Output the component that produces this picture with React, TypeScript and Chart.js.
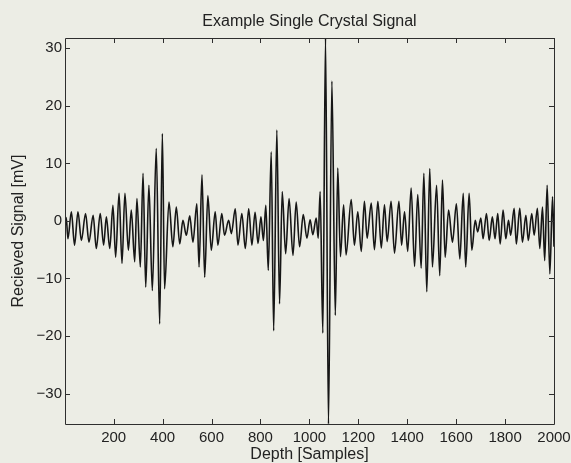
import React, { useEffect, useRef } from "react";
import { Chart, registerables } from "chart.js";

Chart.register(...registerables);

const chartTitle = "Example Single Crystal Signal";
const xAxisLabel = "Depth [Samples]";
const yAxisLabel = "Recieved Signal [mV]";

const xTicks = [200, 400, 600, 800, 1000, 1200, 1400, 1600, 1800, 2000];
const yTicks = [-30, -20, -10, 0, 10, 20, 30];
const xLimits = [1, 2000];
const yLimits = [-35.3, 31.8];

// Sample index of each turning point of the waveform
const sampleIdx = [
  1, 6, 13, 27, 40, 54, 68, 85, 99, 116, 129, 145, 159, 170, 184, 197, 208, 222, 234, 246,
  260, 272, 286, 295, 309, 320, 331, 344, 358, 374, 388, 399, 408, 426, 442, 456, 470, 483,
  497, 511, 524, 540, 549, 561, 572, 585, 599, 615, 626, 642, 653, 670, 681, 697, 708, 724,
  738, 752, 765, 778, 790, 802, 812, 822, 832, 844, 854, 867, 878, 889, 903, 917, 933, 946,
  960, 975, 990, 1003, 1014, 1028, 1036, 1044, 1055, 1066, 1078, 1092, 1106, 1116, 1127,
  1140, 1150, 1171, 1184, 1198, 1212, 1225, 1236, 1253, 1266, 1280, 1294, 1307, 1318, 1334,
  1348, 1366, 1377, 1389, 1402, 1416, 1430, 1443, 1457, 1468, 1480, 1492, 1503, 1520, 1533,
  1544, 1555, 1569, 1585, 1601, 1615, 1629, 1639, 1653, 1664, 1678, 1688, 1701, 1710, 1724,
  1735, 1748, 1759, 1770, 1780, 1792, 1803, 1814, 1823, 1837, 1846, 1860, 1871, 1885, 1895,
  1909, 1919, 1932, 1942, 1953, 1962, 1972, 1983, 1994, 2000,
];

// Signal value in mV at each turning point
const signalMv = [
  -1.2, 0.6, -3.1, 1.6, -4.2, 1.6, -3.4, 1.3, -3.7, 1.0, -4.8, 1.3, -4.2, 0.7, -4.8, 2.7, -6.3, 4.8, -7.4, 4.8,
  -5.1, 1.9, -7.1, 3.9, -8.0, 8.3, -11.5, 6.2, -12.1, 12.6, -17.9, 15.2, -11.8, 3.3, -4.5, 2.4, -4.0, 0.1,
  -2.5, 0.9, -3.7, 3.0, -8.0, 8.0, -9.8, 4.4, -5.1, 1.6, -4.2, 1.3, -2.5, 0.1, -2.2, 2.1, -4.2, 1.3,
  -4.8, 2.1, -4.2, 1.5, -3.9, 0.7, -3.4, 2.7, -8.6, 12.0, -19.1, 15.8, -14.4, 5.1, -5.7, 3.9, -6.0, 3.3,
  -4.5, 1.1, -3.0, 0.2, -2.4, 0.5, -3.0, 5.1, -19.5, 31.8, -35.3, 24.3, -16.4, 9.2, -6.2,
  2.8, -5.9, 3.7, -4.2, 1.6, -5.3, 3.4, -3.0, 3.1, -5.0, 3.4, -4.7, 2.8, -3.6, 3.4,
  -5.6, 3.4, -4.2, 1.6, -5.3, 5.7, -7.9, 4.6, -8.2, 8.3, -12.3, 9.1, -8.0, 6.2, -9.5,
  7.1, -6.3, 1.9, -3.7, 3.0, -6.6, 4.8, -8.0, 4.8, -5.1, 0.1, -1.9, 0.5, -3.1, 1.3,
  -3.4, 0.7, -3.1, 1.3, -4.0, 1.9, -3.1, 0.1, -2.5, 2.2, -4.0, 2.2, -3.7, 1.0, -3.4,
  1.3, -2.5, 2.2, -4.8, 2.4, -6.9, 6.2, -9.2, 4.2, -4.5,
];

const BG = "#ecede5";
const INK = "#222222";
const FONT = "'Liberation Sans', Arial, Helvetica, sans-serif";

const fmt = (v: number) => (v < 0 ? "\u2212" + Math.abs(v) : String(v));

const framePlugin = {
  id: "matlabFrame",
  afterDatasetsDraw(chart: any) {
    const { ctx, chartArea, scales } = chart;
    const { left, right, top, bottom } = chartArea;
    const tick = 5;
    ctx.save();
    ctx.strokeStyle = "#2e2e2e";
    ctx.lineWidth = 1;
    ctx.beginPath();
    ctx.rect(Math.round(left) + 0.5, Math.round(top) + 0.5, Math.round(right - left), Math.round(bottom - top));
    for (const v of xTicks) {
      const px = Math.round(scales.x.getPixelForValue(v)) + 0.5;
      ctx.moveTo(px, bottom);
      ctx.lineTo(px, bottom - tick);
      ctx.moveTo(px, top);
      ctx.lineTo(px, top + tick);
    }
    for (const v of yTicks) {
      const py = Math.round(scales.y.getPixelForValue(v)) + 0.5;
      ctx.moveTo(left, py);
      ctx.lineTo(left + tick, py);
      ctx.moveTo(right, py);
      ctx.lineTo(right - tick, py);
    }
    ctx.stroke();
    // title centred over the axes box, as in the original figure
    ctx.fillStyle = INK;
    ctx.font = `16px ${FONT}`;
    ctx.textAlign = "center";
    ctx.textBaseline = "middle";
    ctx.fillText(chartTitle, (left + right) / 2, 21.5);
    ctx.restore();
  },
};

export default function App() {
  const canvasRef = useRef<HTMLCanvasElement | null>(null);

  useEffect(() => {
    document.body.style.margin = "0";
    document.body.style.background = BG;
    const canvas = canvasRef.current;
    if (!canvas) return;
    const points = sampleIdx.map((x, i) => ({ x, y: signalMv[i] }));
    const chart = new Chart(canvas, {
      type: "line",
      data: {
        datasets: [
          {
            data: points,
            borderColor: "#161616",
            borderWidth: 1.6,
            pointRadius: 0,
            fill: false,
            cubicInterpolationMode: "monotone",
          },
        ],
      },
      options: {
        animation: false,
        responsive: false,
        devicePixelRatio: 1,
        parsing: false,
        layout: { padding: { left: 0, right: 17, top: 38, bottom: 0 } },
        plugins: {
          legend: { display: false },
          tooltip: { enabled: false },
          title: { display: false },
        },
        scales: {
          x: {
            type: "linear",
            min: xLimits[0],
            max: xLimits[1],
            grid: { display: false, drawTicks: false },
            border: { display: false },
            afterBuildTicks: (s: any) => {
              s.ticks = xTicks.map((v) => ({ value: v }));
            },
            afterFit: (s: any) => {
              s.height = 39;
              s.paddingLeft = 0;
              s.paddingRight = 0;
            },
            ticks: {
              color: INK,
              font: { family: FONT, size: 15 },
              padding: 5,
              maxRotation: 0,
              autoSkip: false,
              callback: (v: any) => fmt(Number(v)),
            },
            title: {
              display: true,
              text: xAxisLabel,
              color: INK,
              font: { family: FONT, size: 16, lineHeight: 1 },
              padding: { top: 0, bottom: 0.5 },
            },
          },
          y: {
            type: "linear",
            min: yLimits[0],
            max: yLimits[1],
            grid: { display: false, drawTicks: false },
            border: { display: false },
            afterBuildTicks: (s: any) => {
              s.ticks = yTicks.map((v) => ({ value: v }));
            },
            afterFit: (s: any) => {
              s.width = 65;
              s.paddingTop = 0;
              s.paddingBottom = 0;
            },
            ticks: {
              color: INK,
              font: { family: FONT, size: 15 },
              padding: 3,
              autoSkip: false,
              callback: (v: any) => fmt(Number(v)),
            },
            title: {
              display: true,
              text: yAxisLabel,
              color: INK,
              font: { family: FONT, size: 16, lineHeight: 1 },
              padding: { top: 11, bottom: 0 },
            },
          },
        },
      },
      plugins: [framePlugin],
    });
    return () => chart.destroy();
  }, []);

  return (
    <div style={{ position: "fixed", left: 0, top: 0, width: 571, height: 463, background: BG }}>
      <canvas ref={canvasRef} width={571} height={463} style={{ display: "block", width: 571, height: 463 }} />
    </div>
  );
}
